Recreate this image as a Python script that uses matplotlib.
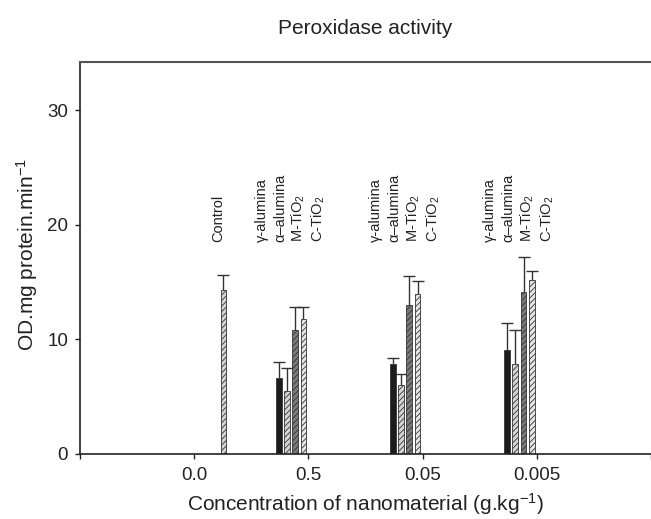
import numpy as np
import matplotlib
matplotlib.use("Agg")
import matplotlib.pyplot as plt

plt.rcParams['font.family'] = ['Liberation Sans', 'DejaVu Sans']
plt.rcParams['mathtext.fontset'] = 'custom'
plt.rcParams['mathtext.rm'] = 'Liberation Sans'
plt.rcParams['mathtext.it'] = 'Liberation Sans:italic'
plt.rcParams['hatch.linewidth'] = 0.6
plt.rcParams['hatch.color'] = '#333333'

# data
tick_labels = ['', '0.0', '0.5', '0.05', '0.005', '']
materials = ['\u03b3-alumina', '\u03b1\u2013alumina', 'M-TiO$_2$', 'C-TiO$_2$']
control_mean = 14.3
control_err = 1.3
gamma_mean = [6.6, 7.85, 9.05]
gamma_err = [1.4, 0.5, 2.35]
alpha_mean = [5.5, 6.0, 7.85]
alpha_err = [2.0, 1.0, 2.95]
mtio_mean = [10.8, 13.0, 14.15]
mtio_err = [2.05, 2.5, 3.05]
ctio_mean = [11.8, 14.0, 15.2]
ctio_err = [1.05, 1.1, 0.8]

means = [gamma_mean, alpha_mean, mtio_mean, ctio_mean]
errs = [gamma_err, alpha_err, mtio_err, ctio_err]
faces = ['#1c1c1c', '#d4d4d4', '#7a7a7a', '#e6e6e6']
hatches = [None, '//////', '//////', '//////']


def up_err(ax, x, m, e):
    # one sided (upward) error bar with a cap on top
    x = np.atleast_1d(x)
    top = np.atleast_1d(m) + np.atleast_1d(e)
    ax.vlines(x, m, top, color='#333333', linewidth=1, zorder=1)
    ax.plot(x, top, '_', color='#333333', markersize=9, markeredgewidth=1,
            zorder=1)


fig = plt.figure(figsize=[6.51, 5.19], dpi=100)
ax = fig.add_axes([80/651, 1 - 454/519, 571/651, 392/519])

group_x = np.array([1, 2, 3])
offsets = [-0.26, -0.188, -0.116, -0.044]
width = 0.05

# control bar
ax.bar(0.256, control_mean, width, color='#d4d4d4', hatch='//////',
       edgecolor='#333333', linewidth=0.6, zorder=2)
up_err(ax, 0.256, control_mean, control_err)

for i in range(4):
    x = group_x + offsets[i]
    ax.bar(x, means[i], width, color=faces[i], hatch=hatches[i],
           edgecolor='#333333', linewidth=0.6, zorder=2)
    up_err(ax, x, np.array(means[i]), np.array(errs[i]))

# rotated material labels above each group
label_off = [-0.41, -0.245, -0.085, 0.09]
ax.text(0.212, 18.5, 'Control', rotation=90, ha='center', va='bottom',
        fontsize=10.5, color='#222222')
for g in group_x:
    for j, name in enumerate(materials):
        ax.text(g + label_off[j], 18.5, name, rotation=90, ha='center',
                va='bottom', fontsize=10.5, color='#222222')

ax.set_xlim(-1, 4)
ax.set_ylim(0, 34.2)
ax.set_xticks([-1, 0, 1, 2, 3, 4])
ax.set_xticklabels(tick_labels)
ax.set_yticks([0, 10, 20, 30])
ax.tick_params(direction='out', length=3.6, width=1, labelsize=13.5,
               colors='#222222', pad=5)
ax.tick_params(axis='x', pad=6)
ax.spines['right'].set_visible(False)
for s in ['left', 'bottom']:
    ax.spines[s].set_linewidth(1.2)
    ax.spines[s].set_color('#222222')
ax.spines['top'].set_linewidth(1.5)
ax.spines['top'].set_color('#555555')

ax.set_xlabel('Concentration of nanomaterial (g.kg$^{-1}$)', fontsize=15,
              color='#222222')
ax.xaxis.set_label_coords(0.5, -0.095)
ax.set_ylabel('OD.mg protein.min$^{-1}$', fontsize=15, color='#222222')
ax.yaxis.set_label_coords(-0.07, 0.51)
fig.text(0.5 * (80 + 651) / 651, 1 - 29/519, 'Peroxidase activity',
         ha='center', va='center', fontsize=15, color='#222222')

fig.savefig('out.png', dpi=100)
